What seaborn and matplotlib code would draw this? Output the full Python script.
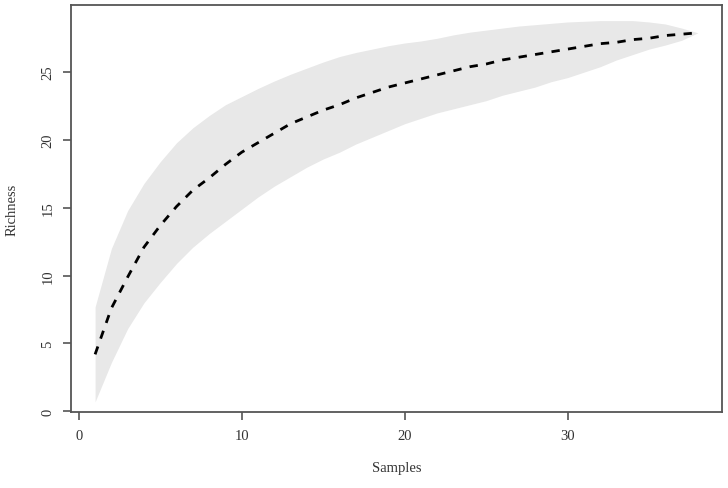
import numpy as np
import pandas as pd
import matplotlib
matplotlib.use("Agg")
import matplotlib.pyplot as plt
import seaborn as sns

samples = list(range(1, 39))
richness = [4.2, 7.6, 9.9, 12.1, 13.7, 15.1, 16.3, 17.2, 18.2, 19.1,
            19.8, 20.5, 21.2, 21.7, 22.2, 22.6, 23.1, 23.5, 23.9, 24.2,
            24.5, 24.8, 25.1, 25.4, 25.6, 25.9, 26.1, 26.3, 26.5, 26.7,
            26.9, 27.1, 27.2, 27.4, 27.5, 27.7, 27.8, 27.9]
upper = [7.7, 12.0, 14.8, 16.8, 18.4, 19.8, 20.9, 21.8, 22.6, 23.2,
         23.8, 24.35, 24.85, 25.3, 25.75, 26.15, 26.45, 26.7, 26.95, 27.15,
         27.3, 27.5, 27.75, 27.95, 28.1, 28.25, 28.4, 28.5, 28.6, 28.7,
         28.75, 28.8, 28.8, 28.8, 28.7, 28.55, 28.25, 27.9]
lower = [0.7, 3.6, 6.1, 8.0, 9.5, 10.9, 12.1, 13.1, 14.0, 14.9,
         15.8, 16.6, 17.3, 18.0, 18.6, 19.1, 19.7, 20.2, 20.7, 21.2,
         21.6, 22.0, 22.3, 22.6, 22.9, 23.3, 23.6, 23.9, 24.3, 24.6,
         25.0, 25.4, 25.9, 26.3, 26.7, 27.0, 27.35, 27.9]
xticks = [0, 10, 20, 30]
yticks = [0, 5, 10, 15, 20, 25]

df = pd.DataFrame({"Samples": samples, "Richness": richness})

sns.set_style("white")
plt.rcParams["font.family"] = ["Liberation Serif", "DejaVu Serif"]

fig = plt.figure(figsize=(7.28, 4.89), dpi=100)
ax = fig.add_axes([0.0975, 0.1554, 0.8943, 0.8323])

ax.fill_between(samples, lower, upper, color="#e8e8e8", linewidth=0)
sns.lineplot(data=df, x="Samples", y="Richness", ax=ax, color="black",
             linewidth=2.0, dashes=False)
ax.lines[-1].set_dashes((3, 3))

ax.set_xlim(-0.48, 39.48)
ax.set_ylim(-0.05, 29.95)
ax.set_xticks(xticks)
ax.set_yticks(yticks)
ax.set_xticklabels([str(t) for t in xticks], fontsize=10.5, color="#333333")
ax.set_yticklabels([str(t) for t in yticks], fontsize=10.5, color="#333333",
                   rotation=90, va="center")
ax.tick_params(axis="both", direction="out", length=6, width=1.2,
               color="#555555", bottom=True, left=True, pad=6)
for s in ax.spines.values():
    s.set_color("#555555")
    s.set_linewidth(1.3)
    s.set_visible(True)

ax.set_xlabel("Samples", fontsize=10.5, color="#333333", labelpad=14)
ax.set_ylabel("Richness", fontsize=10.5, color="#333333", labelpad=16)

fig.savefig("out.png", dpi=100)
